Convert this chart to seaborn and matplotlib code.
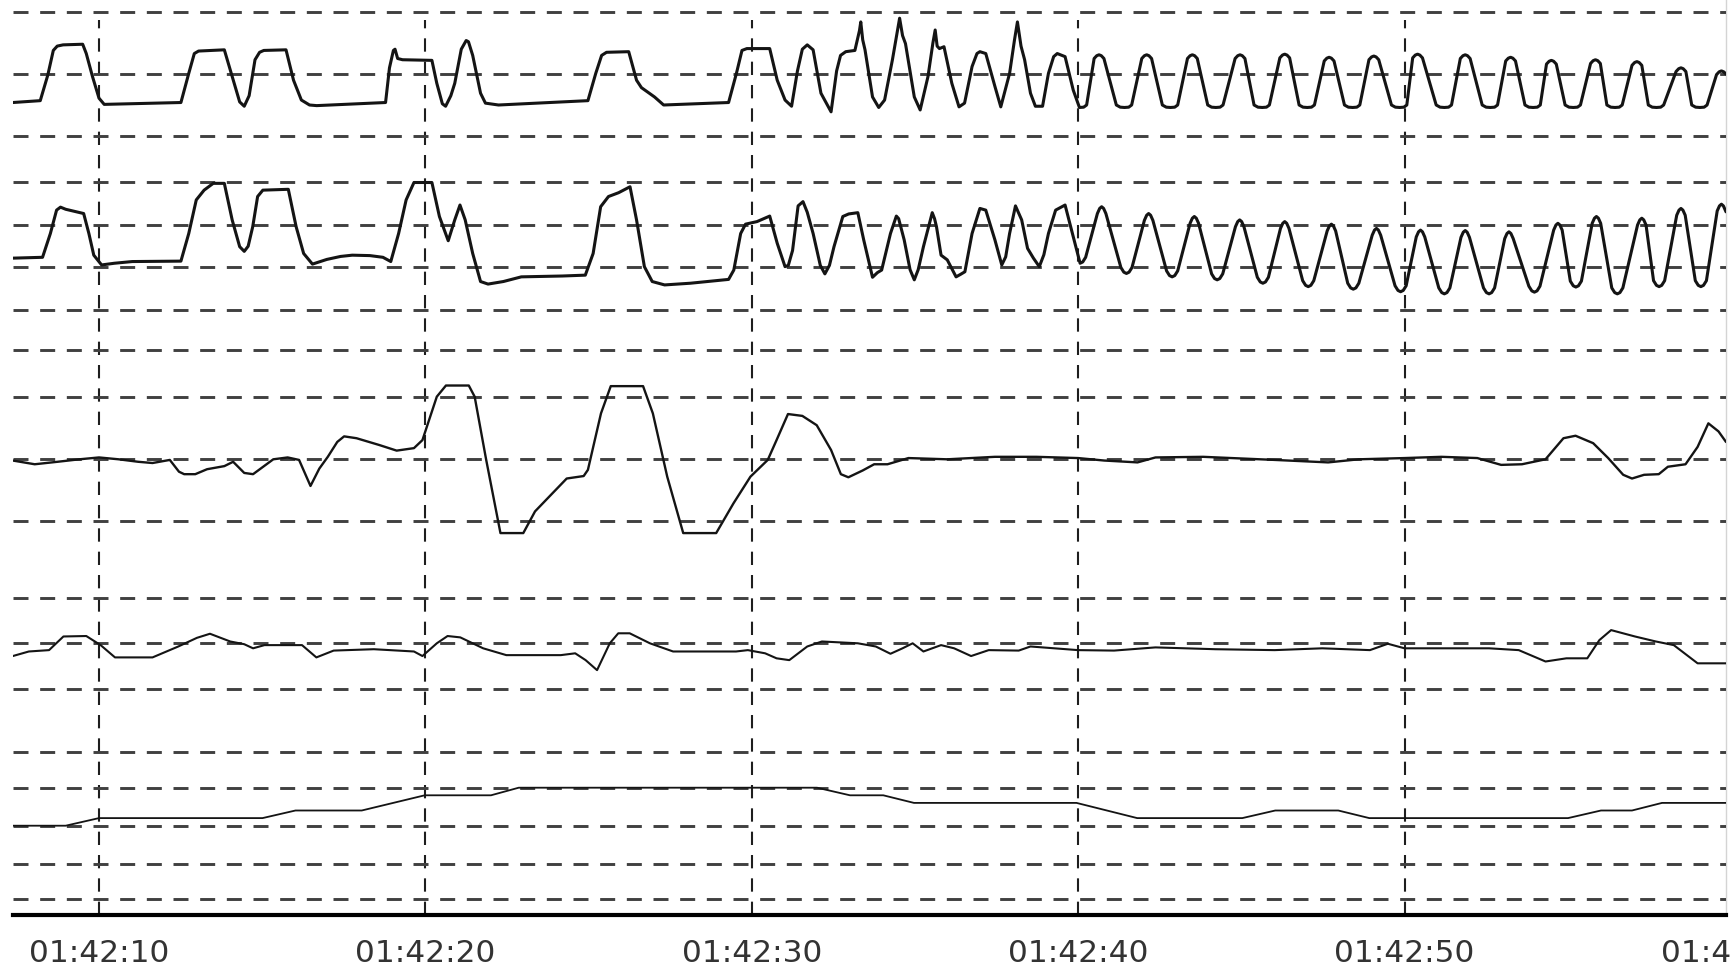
import matplotlib
matplotlib.use("Agg")
import matplotlib.pyplot as plt
import matplotlib.transforms as mtransforms
import numpy as np
import pandas as pd
import seaborn as sns

# ----------------------------
# Dados lidos da figura
# tempo em segundos depois de 01:42:00, amplitude em unidades da grade de cada canal
# ----------------------------
flow = [
    (7.36, -0.46), (8.20, -0.43), (8.43, -0.02), (8.60, 0.38), (8.72, 0.45), (8.90, 0.47),
    (9.50, 0.48), (9.61, 0.33), (9.80, -0.04), (10.00, -0.39), (10.16, -0.49), (12.51, -0.46),
    (12.75, 0.01), (12.92, 0.33), (13.05, 0.37), (13.84, 0.39), (14.08, -0.04), (14.31, -0.45),
    (14.45, -0.52), (14.60, -0.35), (14.78, 0.23), (14.92, 0.35), (15.05, 0.38), (15.73, 0.39),
    (15.96, -0.10), (16.20, -0.42), (16.45, -0.50), (16.67, -0.51), (18.78, -0.46), (18.90, 0.10),
    (19.02, 0.38), (19.07, 0.40), (19.15, 0.25), (19.30, 0.23), (20.20, 0.22), (20.35, -0.15),
    (20.52, -0.48), (20.62, -0.52), (20.78, -0.35), (20.90, -0.15), (21.10, 0.40), (21.25, 0.54),
    (21.32, 0.52), (21.45, 0.30), (21.69, -0.31), (21.84, -0.47), (22.24, -0.50), (24.98, -0.43),
    (25.22, 0.01), (25.40, 0.30), (25.55, 0.35), (26.23, 0.36), (26.47, -0.10), (26.62, -0.22),
    (26.78, -0.28), (27.02, -0.37), (27.30, -0.50), (29.29, -0.46), (29.53, 0.01), (29.70, 0.38),
    (29.85, 0.41), (30.55, 0.41), (30.78, -0.10), (31.02, -0.42), (31.22, -0.52), (31.40, 0.05),
    (31.55, 0.40), (31.70, 0.47), (31.88, 0.39), (32.12, -0.31), (32.43, -0.61), (32.60, 0.05),
    (32.72, 0.30), (32.88, 0.36), (33.16, 0.38), (33.30, 0.70), (33.34, 0.84), (33.40, 0.55),
    (33.47, 0.39), (33.70, -0.37), (33.89, -0.54), (34.07, -0.42), (34.31, 0.23), (34.45, 0.65),
    (34.53, 0.90), (34.62, 0.62), (34.71, 0.49), (34.98, -0.37), (35.16, -0.58), (35.40, -0.04),
    (35.55, 0.50), (35.62, 0.71), (35.68, 0.45), (35.75, 0.41), (35.89, 0.44), (36.13, -0.15),
    (36.35, -0.53), (36.52, -0.47), (36.75, 0.12), (36.90, 0.33), (36.99, 0.36), (37.17, 0.33),
    (37.45, -0.20), (37.63, -0.53), (37.90, 0.01), (38.05, 0.55), (38.14, 0.84), (38.25, 0.45),
    (38.36, 0.23), (38.54, -0.31), (38.69, -0.52), (38.91, -0.52), (39.09, 0.01), (39.25, 0.28),
    (39.36, 0.33), (39.60, 0.28), (39.85, -0.26),
    (40.04, -0.54), (40.17, -0.535), (40.26, -0.50), (40.49, 0.25), (40.57, 0.295), (40.64, 0.31),
    (40.71, 0.295), (40.79, 0.25), (41.17, -0.50), (41.29, -0.535),
    (41.42, -0.54), (41.55, -0.535), (41.64, -0.50), (41.95, 0.25), (42.03, 0.295), (42.10, 0.31),
    (42.17, 0.295), (42.25, 0.25), (42.58, -0.50), (42.70, -0.535),
    (42.83, -0.54), (42.96, -0.535), (43.05, -0.50), (43.35, 0.25), (43.43, 0.295), (43.50, 0.31),
    (43.57, 0.295), (43.65, 0.25), (43.97, -0.50), (44.09, -0.535),
    (44.22, -0.54), (44.35, -0.535), (44.44, -0.50), (44.81, 0.25), (44.89, 0.295), (44.96, 0.31),
    (45.03, 0.295), (45.11, 0.25), (45.39, -0.50), (45.51, -0.535),
    (45.64, -0.54), (45.77, -0.535), (45.86, -0.50), (46.18, 0.26), (46.26, 0.305), (46.33, 0.32),
    (46.40, 0.305), (46.48, 0.26), (46.77, -0.50), (46.89, -0.535),
    (47.02, -0.54), (47.15, -0.535), (47.24, -0.50), (47.54, 0.21), (47.62, 0.255), (47.69, 0.27),
    (47.76, 0.255), (47.84, 0.21), (48.16, -0.50), (48.28, -0.535),
    (48.41, -0.54), (48.54, -0.535), (48.63, -0.50), (48.91, 0.23), (48.99, 0.275), (49.06, 0.29),
    (49.13, 0.275), (49.21, 0.23), (49.60, -0.50), (49.72, -0.535),
    (49.85, -0.54), (49.98, -0.535), (50.07, -0.50), (50.25, 0.26), (50.33, 0.305), (50.40, 0.32),
    (50.47, 0.305), (50.55, 0.26), (50.97, -0.50), (51.09, -0.535),
    (51.22, -0.54), (51.35, -0.535), (51.44, -0.50), (51.71, 0.25), (51.79, 0.295), (51.86, 0.31),
    (51.93, 0.295), (52.01, 0.25), (52.38, -0.50), (52.50, -0.535),
    (52.63, -0.54), (52.76, -0.535), (52.85, -0.50), (53.10, 0.21), (53.18, 0.255), (53.25, 0.27),
    (53.32, 0.255), (53.40, 0.21), (53.69, -0.50), (53.81, -0.535),
    (53.94, -0.54), (54.07, -0.535), (54.16, -0.50), (54.35, 0.16), (54.43, 0.205), (54.50, 0.22),
    (54.57, 0.205), (54.65, 0.16), (54.92, -0.50), (55.04, -0.535),
    (55.17, -0.54), (55.30, -0.535), (55.39, -0.50), (55.70, 0.17), (55.78, 0.215), (55.85, 0.23),
    (55.92, 0.215), (56.00, 0.17), (56.20, -0.50), (56.32, -0.535),
    (56.45, -0.54), (56.58, -0.535), (56.67, -0.50), (56.97, 0.14), (57.05, 0.185), (57.12, 0.20),
    (57.19, 0.185), (57.27, 0.14), (57.47, -0.50), (57.59, -0.535),
    (57.72, -0.54), (57.85, -0.535), (57.94, -0.50), (58.32, 0.04), (58.40, 0.085), (58.47, 0.10),
    (58.54, 0.085), (58.62, 0.04), (58.80, -0.50), (58.92, -0.535),
    (59.05, -0.54), (59.18, -0.535), (59.27, -0.50), (59.56, -0.01), (59.64, 0.035), (59.71, 0.05),
    (59.78, 0.035), (59.85, 0.00),
]

effort = [
    (7.36, -0.78), (8.27, -0.76), (8.51, -0.20), (8.70, 0.35), (8.82, 0.42), (8.98, 0.37),
    (9.53, 0.27), (9.69, -0.20), (9.84, -0.71), (10.08, -0.94), (10.47, -0.90), (11.02, -0.86),
    (12.51, -0.85), (12.75, -0.20), (12.98, 0.59), (13.22, 0.82), (13.50, 0.98), (13.84, 0.98),
    (14.08, 0.12), (14.31, -0.51), (14.45, -0.62), (14.57, -0.50), (14.71, -0.04), (14.86, 0.67),
    (15.02, 0.82), (15.80, 0.84), (16.04, -0.04), (16.27, -0.67), (16.54, -0.92), (16.98, -0.81),
    (17.40, -0.74), (17.76, -0.71), (18.30, -0.72), (18.70, -0.76), (18.94, -0.86), (19.18, -0.20),
    (19.41, 0.59), (19.65, 1.00), (20.20, 1.00), (20.43, 0.20), (20.70, -0.37), (20.90, 0.12),
    (21.06, 0.47), (21.22, 0.12), (21.45, -0.67), (21.69, -1.33), (21.92, -1.39), (22.39, -1.33),
    (22.94, -1.22), (24.20, -1.20), (24.90, -1.18), (25.14, -0.67), (25.37, 0.43), (25.61, 0.67),
    (25.92, 0.76), (26.27, 0.90), (26.47, 0.12), (26.71, -0.98), (26.95, -1.33), (27.33, -1.41),
    (28.12, -1.37), (29.29, -1.28), (29.45, -1.06), (29.66, -0.20), (29.81, 0.02), (30.16, 0.08),
    (30.55, 0.21), (30.78, -0.43), (31.02, -0.98), (31.12, -0.95), (31.25, -0.60), (31.42, 0.45),
    (31.57, 0.55), (31.70, 0.30), (31.88, -0.20), (32.10, -0.95), (32.24, -1.15), (32.38, -0.95),
    (32.52, -0.51), (32.79, 0.20), (32.97, 0.26), (33.25, 0.29), (33.43, -0.35), (33.70, -1.23),
    (33.85, -1.12), (33.98, -1.06), (34.25, -0.20), (34.43, 0.21), (34.50, 0.15), (34.67, -0.35),
    (34.85, -1.05), (34.98, -1.29), (35.10, -1.05), (35.26, -0.51), (35.53, 0.29), (35.60, 0.15),
    (35.66, -0.04), (35.80, -0.71), (35.99, -0.82), (36.26, -1.22), (36.40, -1.16), (36.53, -1.10),
    (36.75, -0.20), (36.99, 0.39), (37.17, 0.35), (37.45, -0.35), (37.66, -0.94), (37.78, -0.75),
    (37.90, -0.20), (38.08, 0.45), (38.27, 0.12), (38.45, -0.55), (38.63, -0.78), (38.81, -0.98),
    (38.95, -0.70), (39.09, -0.20), (39.31, 0.35), (39.60, 0.47), (39.85, -0.27),
    (40.06, -0.90), (40.14, -0.87), (40.23, -0.76), (40.59, 0.27), (40.66, 0.39), (40.72, 0.43),
    (40.78, 0.39), (40.85, 0.27), (41.31, -1.00), (41.40, -1.11),
    (41.48, -1.14), (41.56, -1.11), (41.65, -1.00), (42.03, 0.11), (42.10, 0.23), (42.16, 0.27),
    (42.22, 0.23), (42.29, 0.11), (42.71, -1.08), (42.80, -1.19),
    (42.88, -1.22), (42.96, -1.19), (43.05, -1.08), (43.43, 0.04), (43.50, 0.16), (43.56, 0.20),
    (43.62, 0.16), (43.69, 0.04), (44.09, -1.15), (44.18, -1.26),
    (44.26, -1.29), (44.34, -1.26), (44.43, -1.15), (44.82, -0.04), (44.89, 0.08), (44.95, 0.12),
    (45.01, 0.08), (45.08, -0.04), (45.49, -1.23), (45.58, -1.34),
    (45.66, -1.37), (45.74, -1.34), (45.83, -1.23), (46.20, -0.08), (46.27, 0.04), (46.33, 0.08),
    (46.39, 0.04), (46.46, -0.08), (46.88, -1.31), (46.97, -1.42),
    (47.05, -1.45), (47.13, -1.42), (47.22, -1.31), (47.63, -0.14), (47.70, -0.02), (47.76, 0.02),
    (47.82, -0.02), (47.89, -0.14), (48.26, -1.37), (48.35, -1.48),
    (48.43, -1.51), (48.51, -1.48), (48.60, -1.37), (49.01, -0.24), (49.08, -0.12), (49.14, -0.08),
    (49.20, -0.12), (49.27, -0.24), (49.71, -1.43), (49.80, -1.54),
    (49.88, -1.57), (49.96, -1.54), (50.05, -1.43), (50.36, -0.28), (50.43, -0.16), (50.49, -0.12),
    (50.55, -0.16), (50.62, -0.28), (51.05, -1.48), (51.14, -1.59),
    (51.22, -1.62), (51.30, -1.59), (51.39, -1.48), (51.73, -0.29), (51.80, -0.17), (51.86, -0.13),
    (51.92, -0.17), (51.99, -0.29), (52.42, -1.48), (52.51, -1.59),
    (52.59, -1.62), (52.67, -1.59), (52.76, -1.48), (53.07, -0.32), (53.14, -0.20), (53.20, -0.16),
    (53.26, -0.20), (53.33, -0.32), (53.81, -1.44), (53.90, -1.55),
    (53.98, -1.58), (54.06, -1.55), (54.15, -1.44), (54.57, -0.12), (54.64, 0.00), (54.70, 0.04),
    (54.76, 0.00), (54.83, -0.12), (55.08, -1.32), (55.17, -1.43),
    (55.25, -1.46), (55.33, -1.43), (55.42, -1.32), (55.75, 0.04), (55.82, 0.16), (55.88, 0.20),
    (55.94, 0.16), (56.01, 0.04), (56.35, -1.48), (56.44, -1.59),
    (56.52, -1.62), (56.60, -1.59), (56.69, -1.48), (57.14, 0.00), (57.21, 0.12), (57.27, 0.16),
    (57.33, 0.12), (57.40, 0.00), (57.63, -1.31), (57.72, -1.42),
    (57.80, -1.45), (57.88, -1.42), (57.97, -1.31), (58.34, 0.23), (58.41, 0.35), (58.47, 0.39),
    (58.53, 0.35), (58.60, 0.23), (58.91, -1.31), (59.00, -1.42),
    (59.08, -1.45), (59.16, -1.42), (59.25, -1.31), (59.58, 0.33), (59.65, 0.45), (59.71, 0.49),
    (59.77, 0.45), (59.85, 0.31),
]

trace3 = [
    (7.36, -0.02), (8.03, -0.08), (8.73, -0.04), (9.40, 0.00), (10.00, 0.03), (10.60, 0.00),
    (11.20, -0.04), (11.64, -0.06), (12.17, -0.01), (12.45, -0.20), (12.61, -0.24), (12.95, -0.24),
    (13.31, -0.16), (13.84, -0.11), (14.11, -0.04), (14.45, -0.22), (14.72, -0.24), (15.34, 0.00),
    (15.78, 0.03), (16.13, -0.01), (16.48, -0.43), (16.75, -0.15), (17.01, 0.04), (17.30, 0.28),
    (17.51, 0.37), (17.89, 0.34), (18.59, 0.23), (19.12, 0.14), (19.65, 0.18), (19.91, 0.31),
    (20.35, 1.01), (20.63, 1.19), (21.33, 1.19), (21.51, 1.01), (21.86, 0.00), (22.30, -1.19),
    (23.00, -1.19), (23.36, -0.84), (23.89, -0.55), (24.33, -0.31), (24.85, -0.27), (24.98, -0.17),
    (25.38, 0.74), (25.68, 1.18), (26.67, 1.18), (26.97, 0.74), (27.41, -0.28), (27.90, -1.19),
    (28.91, -1.19), (29.44, -0.71), (29.96, -0.28), (30.49, -0.01), (30.76, 0.31), (31.11, 0.73),
    (31.55, 0.70), (31.99, 0.55), (32.43, 0.15), (32.73, -0.24), (32.96, -0.29), (33.40, -0.18),
    (33.75, -0.08), (34.16, -0.08), (34.80, 0.02), (35.99, 0.00), (37.45, 0.04), (38.72, 0.04),
    (40.00, 0.02), (40.80, -0.02), (41.82, -0.05), (42.37, 0.03), (43.83, 0.04), (46.02, -0.01),
    (47.66, -0.05), (48.60, 0.00), (50.00, 0.02), (51.13, 0.04), (52.23, 0.02), (52.96, -0.09),
    (53.60, -0.08), (54.32, 0.00), (54.87, 0.34), (55.24, 0.38), (55.78, 0.26), (56.24, 0.02),
    (56.70, -0.25), (56.97, -0.31), (57.34, -0.25), (57.79, -0.24), (58.07, -0.12), (58.61, -0.08),
    (58.98, 0.20), (59.31, 0.58), (59.62, 0.45), (59.85, 0.28),
]

trace4 = [
    (7.36, -0.28), (7.85, -0.18), (8.47, -0.15), (8.91, 0.15), (9.61, 0.16), (10.05, -0.04),
    (10.49, -0.31), (11.64, -0.31), (12.43, -0.07), (13.00, 0.12), (13.40, 0.21), (14.02, 0.04),
    (14.45, -0.02), (14.72, -0.11), (15.07, -0.04), (16.22, -0.04), (16.66, -0.31), (17.19, -0.16),
    (18.42, -0.13), (19.65, -0.18), (19.91, -0.28), (20.35, 0.00), (20.68, 0.16), (21.07, 0.13),
    (21.77, -0.11), (22.48, -0.26), (24.15, -0.26), (24.59, -0.22), (24.91, -0.37), (25.26, -0.59),
    (25.65, 0.00), (25.91, 0.22), (26.26, 0.22), (26.88, 0.00), (27.59, -0.18), (29.52, -0.18),
    (29.88, -0.15), (30.41, -0.22), (30.76, -0.33), (31.15, -0.37), (31.70, -0.07), (32.15, 0.04),
    (33.25, 0.00), (33.80, -0.07), (34.25, -0.23), (34.62, -0.11), (34.93, 0.00), (35.26, -0.18),
    (35.80, -0.04), (36.20, -0.11), (36.72, -0.28), (37.26, -0.15), (38.18, -0.16), (38.54, -0.07),
    (40.00, -0.15), (41.10, -0.16), (42.37, -0.09), (44.20, -0.13), (46.02, -0.15), (47.48, -0.11),
    (48.94, -0.15), (49.49, -0.01), (50.00, -0.11), (51.50, -0.11), (52.59, -0.11), (53.50, -0.15),
    (54.32, -0.40), (54.96, -0.33), (55.60, -0.33), (55.97, 0.07), (56.33, 0.29), (57.06, 0.15),
    (57.70, 0.04), (58.25, -0.04), (58.98, -0.44), (59.85, -0.44),
]

spo2 = [
    (7.36, 90), (8.98, 90), (10.00, 91), (15.01, 91), (16.02, 92), (18.05, 92), (19.98, 94),
    (22.01, 94), (22.86, 95), (32.00, 95), (33.01, 94), (34.03, 94), (34.97, 93), (39.95, 93),
    (41.81, 91), (45.03, 91), (46.04, 92), (47.97, 92), (48.92, 91), (55.01, 91), (56.02, 92),
    (56.97, 92), (57.89, 93), (59.85, 93),
]

tick_secs = [10, 20, 30, 40, 50, 60]
tick_labels = ["01:42:10", "01:42:20", "01:42:30", "01:42:40", "01:42:50", "01:43:00"]

# ----------------------------
# Layout (pixels da figura)
# ----------------------------
W, H = 1731, 971
LEFT, RIGHT, TOP, BOTTOM = 13, 1726, 0, 915
T0, T1 = 7.365, 59.85

sns.set_theme(style="white")
plt.rcParams["font.family"] = ["DejaVu Sans"]
plt.rcParams["lines.scale_dashes"] = False

fig = plt.figure(figsize=(W / 100, H / 100), dpi=100)
rect = [LEFT / W, (H - BOTTOM) / H, (RIGHT - LEFT) / W, (BOTTOM - TOP) / H]

base = fig.add_axes(rect)
base.set_xlim(T0, T1)
base.set_ylim(0, 1)
base.set_yticks([])
base.spines["left"].set_visible(False)
base.spines["top"].set_visible(False)
base.spines["right"].set_color("#d4d4d4")
base.spines["right"].set_linewidth(1.0)
base.spines["bottom"].set_color("black")
base.spines["bottom"].set_linewidth(3.0)
base.set_xticks(tick_secs)
base.set_xticks(np.arange(8, 60), minor=True)
base.tick_params(axis="x", which="both", direction="out", length=3, width=1.3,
                 color="black", labelbottom=False)

# linhas verticais tracejadas a cada 10 s
for s in tick_secs[:-1]:
    base.axvline(s, ymin=0, ymax=(BOTTOM - 20) / (BOTTOM - TOP), color="#1e1e1e",
                 lw=1.5, linestyle=(0, (9.6, 7.2)), zorder=1)

trans = mtransforms.blended_transform_factory(base.transData, base.transAxes)
for s, lab in zip(tick_secs, tick_labels):
    base.text(s, -0.026, lab, transform=trans, ha="center", va="top",
              fontsize=22.5, color="#333333", clip_on=False)

# canais: (dados, valor de referência, centro px, px por unidade, grade, espessura)
channels = [
    (flow, 0.0, 74.0, 62.0, [1, 0, -1], 2.2),
    (effort, 0.0, 225.0, 42.5, [1, 0, -1, -2], 2.2),
    (trace3, 0.0, 459.3, 62.0, [1.76, 1, 0, -1], 1.7),
    (trace4, 0.0, 643.3, 45.5, [1, 0, -1], 1.5),
    (spo2, 90.0, 825.7, 7.6, [99.7, 95, 90, 85, 80.3], 1.3),
]

for dados, ref, c, u, grade, lw in channels:
    ax = fig.add_axes(rect, sharex=base)
    ax.patch.set_alpha(0)
    ax.set_ylim(ref - (BOTTOM - c) / u, ref + (c - TOP) / u)
    for g in grade:
        ax.axhline(g, color="#404040", lw=2.1, linestyle=(0, (10.8, 8.4)), zorder=1)
    df = pd.DataFrame(dados, columns=["t", "v"])
    sns.lineplot(data=df, x="t", y="v", ax=ax, color="#141414", lw=lw,
                 sort=False, estimator=None, zorder=3)
    ax.set_xlim(T0, T1)
    ax.axis("off")

fig.savefig("out.png", dpi=100)
